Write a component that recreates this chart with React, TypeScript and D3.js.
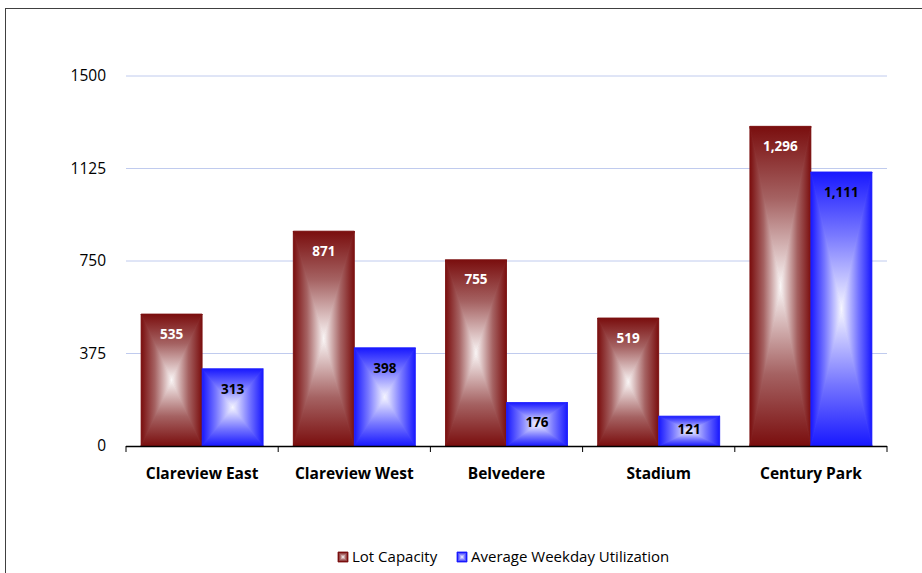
import React from "react";
import * as d3 from "d3";

const categories = ["Clareview East", "Clareview West", "Belvedere", "Stadium", "Century Park"];
const lotCapacity = [535, 871, 755, 519, 1296];
const weekdayUtil = [313, 398, 176, 121, 1111];
const yTicks = [0, 375, 750, 1125, 1500];
const seriesNames = ["Lot Capacity", "Average Weekday Utilization"];

const W = 922, H = 573;
const M = { left: 126, right: 887, top: 76, bottom: 446 };
const FONT = "'Open Sans', 'Liberation Sans', sans-serif";

const palettes = [
  { id: "red", edge: "#7a0e0e", mid: "#a56262", center: "#faf6f6", label: "#ffffff" },
  { id: "blue", edge: "#1818ff", mid: "#7676ff", center: "#f6f6ff", label: "#000000" },
];

function Grad({ id, x1, y1, x2, y2, p }: any) {
  return (
    <linearGradient id={id} x1={x1} y1={y1} x2={x2} y2={y2}>
      <stop offset="0" stopColor={p.edge} />
      <stop offset="0.45" stopColor={p.mid} />
      <stop offset="1" stopColor={p.center} />
    </linearGradient>
  );
}

function BoxBar({ x, y, w, h, p }: any) {
  const cx = x + w / 2, cy = y + h / 2;
  const pts = (a: number[][]) => a.map((q) => q.join(",")).join(" ");
  const tris: [string, number[][]][] = [
    ["t", [[x, y], [x + w, y], [cx, cy]]],
    ["b", [[x, y + h], [x + w, y + h], [cx, cy]]],
    ["l", [[x, y], [x, y + h], [cx, cy]]],
    ["r", [[x + w, y], [x + w, y + h], [cx, cy]]],
  ];
  return (
    <g>
      <rect x={x} y={y} width={w} height={h} fill={p.mid} />
      {tris.map(([k, a]) => (
        <polygon key={k} points={pts(a)} fill={`url(#${p.id}-${k})`} stroke={`url(#${p.id}-${k})`} strokeWidth={0.8} strokeLinejoin="round" />
      ))}
    </g>
  );
}

export default function App() {
  const x0 = d3.scaleBand<string>().domain(categories).range([M.left, M.right]).paddingInner(0).paddingOuter(0);
  const y = d3.scaleLinear().domain([0, 1500]).range([M.bottom, M.top]);
  const bw = 61;
  const fmt = d3.format(",");
  const series = [lotCapacity, weekdayUtil];

  return (
    <div style={{ position: "absolute", left: 0, top: 0 }}>
      <svg width={W} height={H} style={{ display: "block", background: "#fff" }}>
        <defs>
          {palettes.map((p) => (
            <React.Fragment key={p.id}>
              <Grad id={`${p.id}-t`} x1="0" y1="0" x2="0" y2="1" p={p} />
              <Grad id={`${p.id}-b`} x1="0" y1="1" x2="0" y2="0" p={p} />
              <Grad id={`${p.id}-l`} x1="0" y1="0" x2="1" y2="0" p={p} />
              <Grad id={`${p.id}-r`} x1="1" y1="0" x2="0" y2="0" p={p} />
            </React.Fragment>
          ))}
          <clipPath id="plotclip">
            <rect x={0} y={0} width={W} height={M.bottom} />
          </clipPath>
        </defs>
        <rect x={5.5} y={8.5} width={W} height={H} fill="none" stroke="#404040" strokeWidth={1} />
        {yTicks.filter((t) => t > 0).map((t) => (
          <line key={t} x1={M.left} x2={M.right} y1={y(t)} y2={y(t)} stroke="#c0cbee" strokeWidth={1} />
        ))}
        {yTicks.map((t) => (
          <text key={t} x={106} y={y(t)} dy="0.35em" textAnchor="end" fontFamily={FONT} fontSize={15.5} fill="#000">
            {t}
          </text>
        ))}
        {categories.map((c, i) => {
          const gx = x0(c)!;
          const cx = gx + x0.bandwidth() / 2;
          return (
            <g key={c}>
              {series.map((s, si) => {
                const bx = cx - bw + si * bw;
                const by = y(s[i]);
                const h = M.bottom - by;
                const p = palettes[si];
                const ly = by + Math.min(20, h / 2 - 2);
                return (
                  <g key={si}>
                    <g clipPath="url(#plotclip)">
                      <BoxBar x={bx} y={by} w={bw} h={h} p={p} />
                    </g>
                    <text x={bx + bw / 2} y={ly} dy="0.35em" textAnchor="middle" fontFamily={FONT} fontWeight="bold" fontSize={13.5} fill={p.label}>
                      {fmt(s[i])}
                    </text>
                  </g>
                );
              })}
              <text x={cx} y={479} textAnchor="middle" fontFamily={FONT} fontWeight="bold" fontSize={15.5} fill="#000">
                {c}
              </text>
            </g>
          );
        })}
        <line x1={M.left} x2={M.right} y1={M.bottom + 0.5} y2={M.bottom + 0.5} stroke="#000" strokeWidth={1.5} />
        {[...categories.map((c) => x0(c)!), M.right].map((tx, i) => (
          <line key={i} x1={tx} x2={tx} y1={M.bottom} y2={M.bottom + 6} stroke="#000" strokeWidth={1} />
        ))}
        <g transform="translate(338,552)">
          {seriesNames.map((n, i) => {
            const ox = i === 0 ? 0 : 119;
            const p = palettes[i];
            return (
              <g key={n} transform={`translate(${ox},0)`}>
                <BoxBar x={0} y={0} w={10} h={10} p={p} />
                <rect x={0.5} y={0.5} width={9} height={9} fill="none" stroke={p.edge} strokeWidth={1} />
                <text x={14} y={5} dy="0.35em" fontFamily={FONT} fontSize={15} fill="#000">
                  {n}
                </text>
              </g>
            );
          })}
        </g>
      </svg>
    </div>
  );
}
